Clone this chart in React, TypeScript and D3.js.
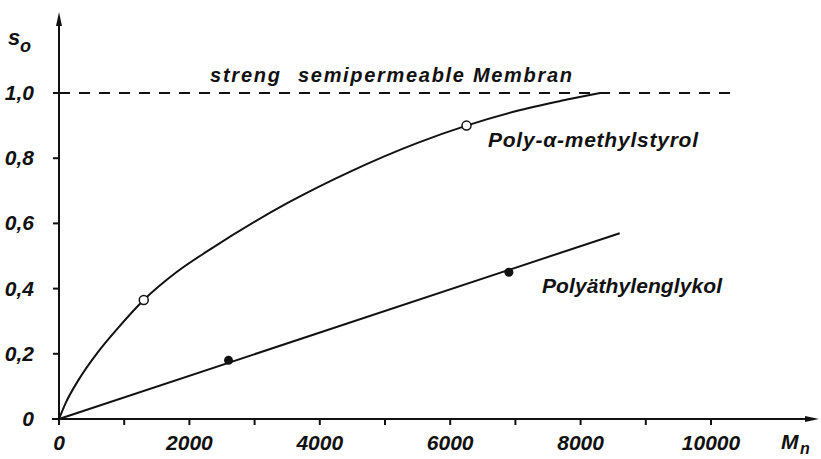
import React from 'react';
import * as d3 from 'd3';

// Axis ticks and labels
const xTicks = [0, 1000, 2000, 3000, 4000, 5000, 6000, 7000, 8000, 9000, 10000];
const xTickLabels = [0, 2000, 4000, 6000, 8000, 10000];
const yTicks = [0, 0.2, 0.4, 0.6, 0.8, 1.0];
const yTickLabels = ['0', '0,2', '0,4', '0,6', '0,8', '1,0'];

// Poly-α-methylstyrol: smooth curve (M_n, s_0) and measured points
const styrolCurveM = [0, 100, 300, 600, 900, 1300, 1800, 2300, 3500, 4500, 5500, 6250, 7000, 7700, 8300];
const styrolCurveS = [0, 0.048, 0.12, 0.206, 0.278, 0.365, 0.45, 0.518, 0.662, 0.762, 0.847, 0.9, 0.944, 0.976, 1.0];
const styrolPointsM = [1300, 6250];
const styrolPointsS = [0.365, 0.9];

// Polyäthylenglykol: straight line and measured points
const glykolLineM = [0, 8600];
const glykolLineS = [0, 0.57];
const glykolPointsM = [2600, 6900];
const glykolPointsS = [0.18, 0.45];

// Limit of a strictly semipermeable membrane
const membranLevel = 1.0;
const membranExtentM = [0, 10320];

const W = 821;
const H = 459;
const FONT = "'Liberation Sans', Arial, sans-serif";

export default function App() {
  const x = d3.scaleLinear().domain([0, 10000]).range([59, 711]);
  const y = d3.scaleLinear().domain([0, 1]).range([419, 93]);

  const curvePts: [number, number][] = styrolCurveM.map((m, i) => [m, styrolCurveS[i]]);
  const linePts: [number, number][] = glykolLineM.map((m, i) => [m, glykolLineS[i]]);

  const smooth = d3
    .line<[number, number]>()
    .x((d) => x(d[0]))
    .y((d) => y(d[1]))
    .curve(d3.curveMonotoneX);
  const straight = d3
    .line<[number, number]>()
    .x((d) => x(d[0]))
    .y((d) => y(d[1]));

  const x0 = x(0);
  const y0 = y(0);
  const textStyle: React.CSSProperties = {
    fontFamily: FONT,
    fontStyle: 'italic',
    fontWeight: 'bold',
    fill: '#111',
  };

  return (
    <svg
      width={W}
      height={H}
      viewBox={`0 0 ${W} ${H}`}
      style={{ position: 'absolute', left: 0, top: 0, background: '#fff' }}
    >
      {/* dashed limit line */}
      <line
        x1={x(membranExtentM[0])}
        x2={x(membranExtentM[1])}
        y1={y(membranLevel)}
        y2={y(membranLevel)}
        stroke="#111"
        strokeWidth={2}
        strokeDasharray="11 9"
      />
      <text x={210} y={82} fontSize={20} style={textStyle} textLength={70} lengthAdjust="spacing">
        streng
      </text>
      <text x={298} y={82} fontSize={20} style={textStyle} textLength={274} lengthAdjust="spacing">
        semipermeable Membran
      </text>

      {/* y axis */}
      <line x1={x0} x2={x0} y1={y0 + 6} y2={22} stroke="#111" strokeWidth={2} />
      <path d={`M${x0},12 L${x0 - 3},26 L${x0 + 3},26 Z`} fill="#111" />
      {yTicks.map((t) => (
        <line key={`yt${t}`} x1={x0 - 6} x2={x0} y1={y(t)} y2={y(t)} stroke="#111" strokeWidth={2} />
      ))}
      {yTicks.map((t, i) => (
        <text
          key={`yl${t}`}
          x={34}
          y={y(t) + 7}
          fontSize={21}
          textAnchor="end"
          style={textStyle}
        >
          {yTickLabels[i]}
        </text>
      ))}
      <text x={8} y={45} fontSize={22} style={textStyle}>
        s
      </text>
      <text x={20} y={52} fontSize={18} style={textStyle}>
        o
      </text>

      {/* x axis */}
      <line x1={x0 - 7} x2={808} y1={y0} y2={y0} stroke="#111" strokeWidth={2} />
      <path d={`M819,${y0} L805,${y0 - 3} L805,${y0 + 3} Z`} fill="#111" />
      {xTicks.map((t) => (
        <line key={`xt${t}`} x1={x(t)} x2={x(t)} y1={y0} y2={y0 + 6} stroke="#111" strokeWidth={2} />
      ))}
      {xTickLabels.map((t) => (
        <text key={`xl${t}`} x={x(t)} y={450} fontSize={21} textAnchor="middle" style={textStyle}>
          {t}
        </text>
      ))}
      <text x={781} y={449} fontSize={21} style={textStyle}>
        M
      </text>
      <text x={800} y={454} fontSize={16} style={textStyle}>
        n
      </text>

      {/* Poly-α-methylstyrol */}
      <path d={smooth(curvePts) ?? ''} fill="none" stroke="#111" strokeWidth={2} />
      {styrolPointsM.map((m, i) => (
        <circle key={`sp${i}`} cx={x(m)} cy={y(styrolPointsS[i])} r={4.5} fill="#fff" stroke="#111" strokeWidth={1.5} />
      ))}
      <text x={488} y={147} fontSize={21} style={textStyle} textLength={210} lengthAdjust="spacing">
        Poly-α-methylstyrol
      </text>

      {/* Polyäthylenglykol */}
      <path d={straight(linePts) ?? ''} fill="none" stroke="#111" strokeWidth={2} />
      {glykolPointsM.map((m, i) => (
        <circle key={`gp${i}`} cx={x(m)} cy={y(glykolPointsS[i])} r={4.5} fill="#111" />
      ))}
      <text x={542} y={293} fontSize={21} style={textStyle} textLength={180} lengthAdjust="spacing">
        Polyäthylenglykol
      </text>
    </svg>
  );
}
